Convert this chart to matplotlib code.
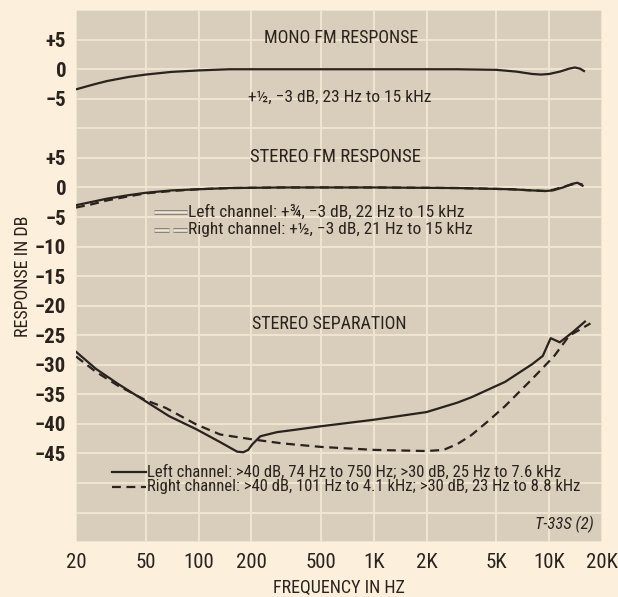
import matplotlib
matplotlib.use("Agg")
import matplotlib.pyplot as plt

plt.rcParams['font.family'] = ['Roboto Condensed', 'Liberation Sans', 'DejaVu Sans']

# mono FM response (dB); drawn 20 dB (4 grid rows) above the stereo scale
MONO_OFFSET = 20
mono_freq = [20, 25, 30, 40, 50, 70, 100, 150, 300, 1000, 3000, 5000, 6500, 8000,
             9000, 10000, 11500, 13000, 14000, 15000, 15800]
mono_db = [-3.4, -2.6, -2.0, -1.3, -0.9, -0.45, -0.2, 0, 0, 0, 0, -0.1, -0.4, -0.8,
           -0.9, -0.8, -0.4, 0.1, 0.3, 0.1, -0.3]

# stereo FM response
stereo_freq = [20, 25, 30, 40, 50, 70, 100, 150, 300, 1000, 3000, 6000, 8000,
               9500, 10500, 12000, 13500, 14500, 15500]
stereo_left_db = [-3.0, -2.4, -1.9, -1.3, -0.9, -0.5, -0.3, -0.1, 0, 0, -0.1, -0.3,
                  -0.5, -0.6, -0.5, 0, 0.6, 0.8, 0.3]
stereo_right_db = [-3.4, -2.8, -2.2, -1.5, -1.0, -0.6, -0.3, -0.1, 0, 0, -0.1, -0.3,
                   -0.5, -0.6, -0.4, 0.1, 0.5, 0.7, 0.5]

# stereo separation
sep_left_freq = [20, 26, 35, 50, 68, 97, 133, 166, 180, 192, 202, 225, 280, 335, 500,
                 1000, 2000, 3000, 3600, 5600, 8000, 9200, 10200, 11500, 13600, 16000]
sep_left_db = [-27.8, -30.7, -33.3, -36.2, -38.7, -40.9, -43.1, -44.7, -44.8, -44.4,
               -43.5, -42.1, -41.4, -41.1, -40.4, -39.3, -38.0, -36.4, -35.5, -32.9,
               -29.9, -28.5, -25.5, -26.2, -24.5, -22.7]
sep_right_freq = [20, 26, 35, 50, 65, 97, 133, 200, 300, 500, 1000, 2000, 2500, 3000,
                  3600, 4500, 5600, 8000, 10700, 13000, 17200]
sep_right_db = [-28.6, -31.2, -33.6, -36.0, -37.3, -40.1, -41.8, -42.6, -43.3, -43.9,
                -44.4, -44.6, -44.4, -43.4, -41.9, -39.5, -37.0, -32.4, -28.5, -25.1, -23.0]

x_ticks = [20, 50, 100, 200, 500, 1000, 2000, 5000, 10000, 20000]
x_labels = ['20', '50', '100', '200', '500', '1K', '2K', '5K', '10K', '20K']
y_ticks = [25, 20, 15, 5, 0, -5, -10, -15, -20, -25, -30, -35, -40, -45]
y_labels = ['+5', '0', '\u22125', '+5', '0', '\u22125', '\u221210', '\u221215', '\u221220',
            '\u221225', '\u221230', '\u221235', '\u221240', '\u221245']

ink = '#2a221c'
paper = '#fcf0dc'
grid_c = '#efe5d1'

fig = plt.figure(figsize=(6.18, 5.97), dpi=100, facecolor=paper)
ax = fig.add_axes([0.123, 0.092, 0.851, 0.891])
ax.set_facecolor('#d8cebb')
ax.set_xscale('log')
ax.set_xlim(20, 20000)
ax.set_ylim(-60, 30)

for f in x_ticks:
    ax.axvline(f, color=grid_c, lw=1.4, zorder=1)
for v in range(-60, 31, 5):
    ax.axhline(v, color=grid_c, lw=1.4, zorder=1)

ax.plot(mono_freq, [d + MONO_OFFSET for d in mono_db], color=ink, lw=1.6, zorder=3)
ax.plot(stereo_freq, stereo_left_db, color=ink, lw=1.6, zorder=3)
ax.plot(stereo_freq, stereo_right_db, color=ink, lw=1.6, ls=(0, (4, 2.5)), zorder=3)
ax.plot(sep_left_freq, sep_left_db, color=ink, lw=1.6, zorder=3)
ax.plot(sep_right_freq, sep_right_db, color=ink, lw=1.6, ls=(0, (4, 2.5)), zorder=3)

ax.xaxis.set_major_locator(plt.FixedLocator(x_ticks))
ax.xaxis.set_minor_locator(plt.NullLocator())
ax.set_xticklabels(x_labels)
ax.set_yticks(y_ticks)
ax.set_yticklabels(y_labels, fontweight='bold')
ax.tick_params(axis='both', length=0, labelsize=15, colors=ink)
ax.tick_params(axis='x', pad=8)
ax.tick_params(axis='y', pad=7)
for s in ax.spines.values():
    s.set_visible(False)

ax.set_xlabel('FREQUENCY IN HZ', fontsize=13, color=ink, labelpad=5)
ax.set_ylabel('RESPONSE IN DB', fontsize=13, color=ink, labelpad=2)

tk = dict(transform=ax.transAxes, color=ink)
ax.text(0.504, 0.947, 'MONO FM RESPONSE', ha='center', va='center', fontsize=13, **tk)
ax.text(0.502, 0.836, '+\u00bd, \u22123 dB, 23 Hz to 15 kHz', ha='center', va='center',
        fontsize=12.5, **tk)
ax.text(0.494, 0.724, 'STEREO FM RESPONSE', ha='center', va='center', fontsize=13.5, **tk)
ax.text(0.481, 0.41, 'STEREO SEPARATION', ha='center', va='center', fontsize=13, **tk)

# hollow legend samples for the stereo FM response (outer/inner dashes in matching px)
for yy, outer_ls, inner_ls in [(0.621, '-', '-'),
                               (0.587, (0, (3, 0.8)), (0, (6, 1.6)))]:
    ax.plot([0.148, 0.211], [yy, yy], transform=ax.transAxes, color='#8c8273', lw=3.6,
            ls=outer_ls, solid_capstyle='butt', dash_capstyle='butt', zorder=4)
    ax.plot([0.148, 0.211], [yy, yy], transform=ax.transAxes, color='#eee8dc', lw=1.8,
            ls=inner_ls, solid_capstyle='butt', dash_capstyle='butt', zorder=5)
ax.text(0.213, 0.621, 'Left channel: +\u00be, \u22123 dB, 22 Hz to 15 kHz', ha='left',
        va='center', fontsize=12.5, **tk)
ax.text(0.213, 0.587, 'Right channel: +\u00bd, \u22123 dB, 21 Hz to 15 kHz', ha='left',
        va='center', fontsize=12.5, **tk)

ax.plot([0.068, 0.133], [0.131, 0.131], transform=ax.transAxes, color=ink, lw=1.6)
ax.plot([0.068, 0.133], [0.104, 0.104], transform=ax.transAxes, color=ink, lw=1.6,
        ls=(0, (4, 2.5)))
ax.text(0.135, 0.131, 'Left channel: >40 dB, 74 Hz to 750 Hz; >30 dB, 25 Hz to 7.6 kHz',
        ha='left', va='center', fontsize=12, **tk)
ax.text(0.135, 0.104, 'Right channel: >40 dB, 101 Hz to 4.1 kHz; >30 dB, 23 Hz to 8.8 kHz',
        ha='left', va='center', fontsize=12, **tk)

ax.text(0.985, 0.017, 'T-33S (2)', ha='right', va='bottom', fontsize=12, style='italic', **tk)

fig.savefig('out.png', dpi=100, facecolor=paper)
